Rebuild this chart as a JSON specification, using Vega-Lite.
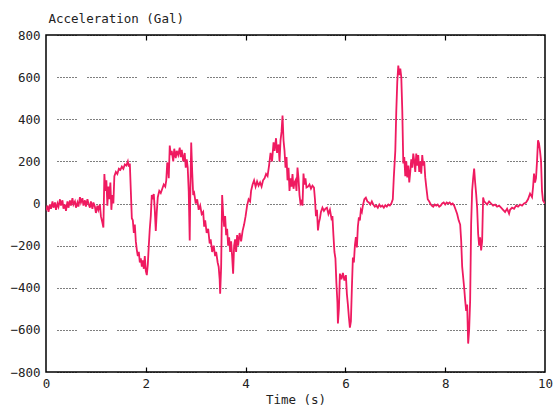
{
  "$schema": "https://vega.github.io/schema/vega-lite/v6.json",
  "width": 499,
  "height": 337,
  "autosize": "none",
  "padding": {"left": 46, "top": 35, "right": 10, "bottom": 42},
  "background": "white",
  "config": {
    "view": {"stroke": "black", "strokeWidth": 1.5},
    "axis": {
      "labelFont": "DejaVu Sans Mono",
      "titleFont": "DejaVu Sans Mono",
      "labelFontSize": 12.5,
      "titleFontSize": 12.5,
      "titleFontWeight": "normal",
      "labelColor": "#222",
      "titleColor": "#222",
      "domain": false
    }
  },
  "data": {"values": [
    {"t":0.00,"a":-33},{"t":0.03,"a":-10},{"t":0.05,"a":-40},{"t":0.08,"a":-5},{"t":0.10,"a":-25},{"t":0.13,"a":10},{"t":0.15,"a":-20},{"t":0.18,"a":5},{"t":0.20,"a":-30},{"t":0.23,"a":0},{"t":0.25,"a":-15},{"t":0.28,"a":20},{"t":0.30,"a":-10},{"t":0.33,"a":15},{"t":0.35,"a":-25},{"t":0.38,"a":-5},{"t":0.40,"a":-35},{"t":0.43,"a":10},{"t":0.45,"a":-20},{"t":0.48,"a":15},{"t":0.50,"a":-10},{"t":0.53,"a":25},{"t":0.55,"a":-5},{"t":0.58,"a":10},{"t":0.60,"a":-20},{"t":0.63,"a":5},{"t":0.65,"a":-15},{"t":0.68,"a":30},{"t":0.70,"a":5},{"t":0.73,"a":25},{"t":0.75,"a":-10},{"t":0.78,"a":15},{"t":0.80,"a":-15},{"t":0.83,"a":20},{"t":0.85,"a":0},{"t":0.88,"a":-20},{"t":0.90,"a":10},{"t":0.93,"a":-25},{"t":0.95,"a":5},{"t":0.98,"a":-15},{"t":1.00,"a":-45},{"t":1.03,"a":-10},{"t":1.05,"a":-30},{"t":1.08,"a":-5},{"t":1.10,"a":-60},{"t":1.13,"a":-90},{"t":1.15,"a":-114},
    {"t":1.17,"a":140},{"t":1.19,"a":60},{"t":1.21,"a":110},{"t":1.23,"a":-10},{"t":1.25,"a":80},{"t":1.27,"a":20},{"t":1.29,"a":100},{"t":1.31,"a":-30},{"t":1.33,"a":40},{"t":1.35,"a":0},{"t":1.37,"a":130},{"t":1.40,"a":150},{"t":1.43,"a":140},{"t":1.46,"a":165},{"t":1.49,"a":160},{"t":1.52,"a":175},{"t":1.55,"a":165},{"t":1.58,"a":185},{"t":1.61,"a":180},{"t":1.64,"a":200},{"t":1.66,"a":175},{"t":1.68,"a":190},{"t":1.70,"a":60},{"t":1.72,"a":-70},{"t":1.74,"a":-80},{"t":1.76,"a":-140},{"t":1.78,"a":-100},{"t":1.80,"a":-180},{"t":1.82,"a":-220},{"t":1.84,"a":-250},{"t":1.86,"a":-230},{"t":1.88,"a":-280},{"t":1.90,"a":-260},{"t":1.92,"a":-300},{"t":1.94,"a":-270},{"t":1.96,"a":-310},{"t":1.98,"a":-250},{"t":2.00,"a":-320},{"t":2.02,"a":-340},{"t":2.04,"a":-290},{"t":2.06,"a":-200},{"t":2.08,"a":-120},{"t":2.10,"a":-60},{"t":2.12,"a":40},{"t":2.14,"a":20},{"t":2.16,"a":45},{"t":2.18,"a":-30},{"t":2.20,"a":-130},{"t":2.22,"a":-40},{"t":2.24,"a":30},{"t":2.27,"a":60},{"t":2.30,"a":50},{"t":2.33,"a":70},{"t":2.36,"a":90},{"t":2.39,"a":80},{"t":2.41,"a":110},{"t":2.43,"a":195},{"t":2.45,"a":160},
    {"t":2.46,"a":120},{"t":2.48,"a":275},{"t":2.50,"a":230},{"t":2.52,"a":250},{"t":2.55,"a":200},{"t":2.57,"a":260},{"t":2.60,"a":215},{"t":2.62,"a":250},{"t":2.65,"a":230},{"t":2.68,"a":265},{"t":2.70,"a":220},{"t":2.72,"a":255},{"t":2.75,"a":200},{"t":2.78,"a":240},{"t":2.80,"a":170},{"t":2.82,"a":210},{"t":2.84,"a":170},{"t":2.86,"a":60},{"t":2.88,"a":-176},{"t":2.89,"a":20},{"t":2.91,"a":290},{"t":2.93,"a":150},{"t":2.95,"a":40},{"t":2.97,"a":50},{"t":3.00,"a":0},{"t":3.03,"a":20},{"t":3.06,"a":-30},{"t":3.09,"a":-10},{"t":3.12,"a":-50},{"t":3.15,"a":-40},
    {"t":3.17,"a":-110},{"t":3.19,"a":-80},{"t":3.22,"a":-140},{"t":3.25,"a":-120},{"t":3.28,"a":-190},{"t":3.30,"a":-170},{"t":3.33,"a":-230},{"t":3.36,"a":-200},{"t":3.39,"a":-250},{"t":3.41,"a":-230},{"t":3.44,"a":-280},{"t":3.46,"a":-300},{"t":3.48,"a":-360},{"t":3.49,"a":-428},{"t":3.51,"a":-300},{"t":3.53,"a":40},{"t":3.55,"a":-50},{"t":3.57,"a":-110},{"t":3.59,"a":-60},{"t":3.61,"a":-150},{"t":3.63,"a":-120},{"t":3.65,"a":-200},{"t":3.67,"a":-160},{"t":3.69,"a":-230},{"t":3.71,"a":-180},{"t":3.73,"a":-250},{"t":3.75,"a":-333},{"t":3.77,"a":-200},{"t":3.79,"a":-170},{"t":3.81,"a":-230},{"t":3.83,"a":-150},{"t":3.85,"a":-200},{"t":3.88,"a":-140},{"t":3.91,"a":-180},{"t":3.94,"a":-130},{"t":3.97,"a":-100},{"t":4.00,"a":-60},{"t":4.03,"a":-10},{"t":4.06,"a":20},{"t":4.09,"a":10},
    {"t":4.11,"a":60},{"t":4.14,"a":90},{"t":4.17,"a":110},{"t":4.20,"a":80},{"t":4.23,"a":105},{"t":4.26,"a":85},{"t":4.29,"a":100},{"t":4.32,"a":80},{"t":4.35,"a":110},{"t":4.38,"a":120},{"t":4.41,"a":140},{"t":4.44,"a":130},{"t":4.47,"a":180},{"t":4.50,"a":240},{"t":4.53,"a":200},{"t":4.56,"a":290},{"t":4.58,"a":250},{"t":4.61,"a":310},{"t":4.63,"a":240},{"t":4.66,"a":280},{"t":4.68,"a":200},{"t":4.70,"a":300},{"t":4.72,"a":340},{"t":4.74,"a":418},{"t":4.76,"a":300},{"t":4.78,"a":250},{"t":4.80,"a":170},{"t":4.82,"a":220},{"t":4.84,"a":110},{"t":4.86,"a":170},{"t":4.88,"a":60},{"t":4.90,"a":120},{"t":4.92,"a":80},{"t":4.94,"a":140},{"t":4.96,"a":70},{"t":4.98,"a":100},
    {"t":5.00,"a":110},{"t":5.02,"a":60},{"t":5.04,"a":171},{"t":5.06,"a":120},{"t":5.08,"a":40},{"t":5.10,"a":0},{"t":5.12,"a":10},{"t":5.14,"a":-10},{"t":5.16,"a":142},{"t":5.18,"a":90},{"t":5.20,"a":120},{"t":5.22,"a":76},{"t":5.25,"a":80},{"t":5.28,"a":90},{"t":5.31,"a":70},{"t":5.34,"a":85},{"t":5.37,"a":76},{"t":5.39,"a":20},{"t":5.41,"a":-60},{"t":5.43,"a":-30},{"t":5.45,"a":-128},{"t":5.47,"a":-90},{"t":5.49,"a":-70},{"t":5.51,"a":-40},{"t":5.54,"a":-20},{"t":5.57,"a":-35},{"t":5.60,"a":-25},{"t":5.63,"a":-20},{"t":5.66,"a":-50},{"t":5.69,"a":-30},{"t":5.72,"a":-70},{"t":5.74,"a":-60},{"t":5.76,"a":-150},{"t":5.78,"a":-230},{"t":5.80,"a":-260},{"t":5.82,"a":-380},{"t":5.84,"a":-470},{"t":5.85,"a":-570},{"t":5.87,"a":-500},{"t":5.89,"a":-333},{"t":5.92,"a":-360},{"t":5.95,"a":-330},{"t":5.98,"a":-366},{"t":6.01,"a":-340},{"t":6.03,"a":-430},{"t":6.05,"a":-480},{"t":6.07,"a":-540},{"t":6.09,"a":-589},{"t":6.11,"a":-560},{"t":6.13,"a":-400},{"t":6.15,"a":-256},{"t":6.17,"a":-280},{"t":6.19,"a":-200},{"t":6.21,"a":-160},{"t":6.23,"a":-209},{"t":6.25,"a":-110},{"t":6.27,"a":-66},{"t":6.29,"a":-80},{"t":6.31,"a":-30},{"t":6.33,"a":-40},{"t":6.35,"a":-10},{"t":6.38,"a":20},{"t":6.41,"a":28},{"t":6.44,"a":10},{"t":6.47,"a":5},{"t":6.50,"a":-5},{"t":6.53,"a":10},{"t":6.56,"a":-5},{"t":6.59,"a":-15},{"t":6.62,"a":-10},{"t":6.65,"a":-20},{"t":6.68,"a":-5},{"t":6.71,"a":-15},{"t":6.74,"a":-10},{"t":6.77,"a":-20},{"t":6.80,"a":-8},{"t":6.83,"a":-15},{"t":6.86,"a":-5},{"t":6.89,"a":-10},{"t":6.92,"a":0},{"t":6.95,"a":20},{"t":6.97,"a":124},
    {"t":7.00,"a":250},{"t":7.02,"a":440},{"t":7.04,"a":580},{"t":7.06,"a":655},{"t":7.08,"a":610},{"t":7.10,"a":640},{"t":7.12,"a":600},{"t":7.14,"a":442},{"t":7.16,"a":190},{"t":7.18,"a":220},{"t":7.20,"a":130},{"t":7.22,"a":200},{"t":7.24,"a":124},{"t":7.26,"a":180},{"t":7.28,"a":100},{"t":7.30,"a":150},{"t":7.32,"a":210},{"t":7.34,"a":170},{"t":7.36,"a":237},{"t":7.38,"a":200},{"t":7.40,"a":150},{"t":7.42,"a":237},{"t":7.44,"a":180},{"t":7.46,"a":230},{"t":7.48,"a":150},{"t":7.50,"a":200},{"t":7.52,"a":142},{"t":7.54,"a":230},{"t":7.56,"a":180},{"t":7.58,"a":200},{"t":7.60,"a":124},{"t":7.62,"a":80},{"t":7.65,"a":20},{"t":7.68,"a":10},{"t":7.70,"a":0},
    {"t":7.73,"a":-10},{"t":7.76,"a":-15},{"t":7.79,"a":-5},{"t":7.82,"a":-10},{"t":7.85,"a":-5},{"t":7.88,"a":-15},{"t":7.91,"a":-10},{"t":7.94,"a":0},{"t":7.97,"a":5},{"t":8.00,"a":-5},{"t":8.03,"a":5},{"t":8.06,"a":0},{"t":8.09,"a":5},{"t":8.12,"a":-5},{"t":8.15,"a":0},{"t":8.18,"a":-10},{"t":8.21,"a":-30},{"t":8.24,"a":-50},{"t":8.27,"a":-80},{"t":8.30,"a":-100},{"t":8.32,"a":-176},{"t":8.34,"a":-300},{"t":8.36,"a":-350},{"t":8.38,"a":-400},{"t":8.40,"a":-460},{"t":8.42,"a":-510},{"t":8.44,"a":-480},{"t":8.46,"a":-665},{"t":8.48,"a":-600},{"t":8.50,"a":-460},{"t":8.52,"a":-95},{"t":8.54,"a":62},{"t":8.56,"a":120},{"t":8.58,"a":166},{"t":8.60,"a":100},{"t":8.62,"a":47},{"t":8.64,"a":-20},{"t":8.66,"a":-143},{"t":8.68,"a":-200},{"t":8.70,"a":-160},{"t":8.72,"a":-223},{"t":8.74,"a":-180},{"t":8.76,"a":28},{"t":8.78,"a":10},{"t":8.80,"a":5},{"t":8.84,"a":-5},{"t":8.88,"a":10},{"t":8.92,"a":0},{"t":8.96,"a":-10},{"t":9.00,"a":-5},{"t":9.04,"a":-15},{"t":9.08,"a":-10},{"t":9.12,"a":-20},{"t":9.16,"a":-30},{"t":9.20,"a":-40},{"t":9.24,"a":-25},{"t":9.28,"a":-48},{"t":9.30,"a":-30},{"t":9.34,"a":-20},{"t":9.38,"a":-25},{"t":9.42,"a":-10},{"t":9.46,"a":-15},{"t":9.50,"a":-5},{"t":9.54,"a":-10},{"t":9.58,"a":0},{"t":9.62,"a":5},{"t":9.66,"a":20},{"t":9.70,"a":47},{"t":9.74,"a":30},{"t":9.76,"a":76},{"t":9.78,"a":142},{"t":9.80,"a":100},{"t":9.82,"a":120},{"t":9.84,"a":200},{"t":9.86,"a":300},{"t":9.88,"a":285},{"t":9.90,"a":250},{"t":9.92,"a":204},{"t":9.94,"a":60},{"t":9.96,"a":14},{"t":10.00,"a":0}
  ]},
  "layer": [
    {
      "mark": {"type": "line", "color": "#ef1a60", "strokeWidth": 1.8, "clip": true},
      "encoding": {
        "x": {
          "field": "t", "type": "quantitative",
          "scale": {"domain": [0, 10], "nice": false},
          "axis": {
            "values": [0, 2, 4, 6, 8, 10], "grid": false,
            "ticks": false, "labelPadding": 5,
            "labelFlush": false,
            "title": "Time (s)", "titlePadding": 4
          }
        },
        "y": {
          "field": "a", "type": "quantitative",
          "scale": {"domain": [-800, 800], "nice": false},
          "axis": {
            "values": [-800, -600, -400, -200, 0, 200, 400, 600, 800],
            "grid": true, "gridColor": "black", "gridWidth": 1.2,
            "gridDash": [1, 2, 1, 2, 1, 2, 1, 2, 1, 2, 1, 2, 1, 11],
            "gridDashOffset": 19,
            "ticks": false, "labelPadding": 6,
            "title": "Acceleration (Gal)",
            "titleAngle": 0, "titleAlign": "left", "titleBaseline": "middle",
            "titleX": 2, "titleY": -17
          }
        }
      }
    },
    {
      "mark": {"type": "line", "opacity": 0},
      "encoding": {
        "x": {
          "field": "t", "type": "quantitative",
          "scale": {"domain": [0, 10], "nice": false},
          "axis": {
            "orient": "top", "values": [2, 4, 6, 8], "grid": false, "offset": -5,
            "tickSize": 5, "tickWidth": 1.2, "tickColor": "black", "labels": false, "title": null
          }
        },
        "y": {"field": "a", "type": "quantitative"}
      }
    },
    {
      "mark": {"type": "line", "opacity": 0},
      "encoding": {
        "x": {
          "field": "t", "type": "quantitative",
          "scale": {"domain": [0, 10], "nice": false},
          "axis": {
            "orient": "bottom", "values": [2, 4, 6, 8], "grid": false, "offset": -5,
            "tickSize": 5, "tickWidth": 1.2, "tickColor": "black", "labels": false, "title": null
          }
        },
        "y": {"field": "a", "type": "quantitative"}
      }
    }
  ],
  "resolve": {"axis": {"x": "independent", "y": "shared"}}
}
